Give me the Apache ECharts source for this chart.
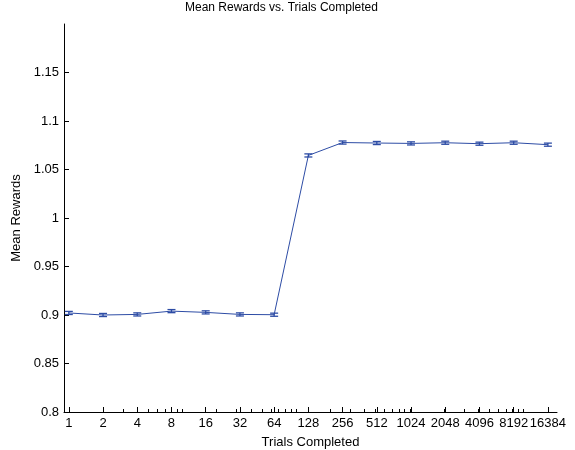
<!DOCTYPE html>
<html><head><meta charset="utf-8">
<script src="https://cdn.jsdelivr.net/npm/echarts@6/dist/echarts.min.js"></script>
<style>html,body{margin:0;padding:0;background:#fff}#c{width:575px;height:450px}</style>
</head><body><div id="c"></div>
<script>
const trials = [1, 2, 4, 8, 16, 32, 64, 128, 256, 512, 1024, 2048, 4096, 8192, 16384];
const meanRewards = [0.9021, 0.9000, 0.9006, 0.9040, 0.9027, 0.9006, 0.9003, 1.0645, 1.0778, 1.0773, 1.0769, 1.0776, 1.0766, 1.0776, 1.0756];
const errors = [0.0016, 0.0016, 0.0016, 0.0016, 0.0016, 0.0016, 0.0016, 0.0016, 0.0016, 0.0016, 0.0016, 0.0016, 0.0016, 0.0016, 0.0016];
const xTickLabels = [1, 2, 4, 8, 16, 32, 64, 128, 256, 512, 1024, 2048, 4096, 8192, 16384];
const xMinorTicks = [1,2,3,4,5,6,7,8,9,10,20,30,40,50,60,70,80,90,100,200,300,400,500,600,700,800,900,1000,2000,3000,4000,5000,6000,7000,8000,9000,10000];
const yTicks = [0.8, 0.85, 0.9, 0.95, 1, 1.05, 1.1, 1.15];

const color = '#2d4ca5';
const font = 'Liberation Sans, Arial, Helvetica, sans-serif';
const chart = echarts.init(document.getElementById('c'));
const errData = trials.map((t, i) => [t, meanRewards[i] - errors[i], meanRewards[i] + errors[i]]);

chart.setOption({
  animation: false,
  title: {
    text: 'Mean Rewards vs. Trials Completed',
    left: 185, top: 2, padding: 0,
    textStyle: {fontFamily: font, fontSize: 12, fontWeight: 'normal', color: '#000'}
  },
  grid: {left: 64, right: 18, top: 24, bottom: 38, outerBoundsMode: 'none', containLabel: false},
  xAxis: [{
    type: 'log', logBase: 2, min: 0.907, max: 19700,
    name: 'Trials Completed', nameLocation: 'middle', nameGap: 24,
    nameTextStyle: {fontFamily: font, fontSize: 13, color: '#000'},
    axisLine: {lineStyle: {color: '#000', width: 1}},
    axisTick: {inside: true, length: 5, customValues: xTickLabels, lineStyle: {color: '#000'}},
    axisLabel: {customValues: xTickLabels, fontFamily: font, fontSize: 13, color: '#000', margin: 5,
      hideOverlap: false, showMinLabel: true, showMaxLabel: true, formatter: v => String(Math.round(v))},
    splitLine: {show: false}, minorTick: {show: false}
  }, {
    type: 'log', logBase: 2, min: 0.907, max: 19700, position: 'bottom',
    axisLine: {show: false},
    axisTick: {inside: true, length: 3, customValues: xMinorTicks, lineStyle: {color: '#000'}},
    axisLabel: {show: false}, splitLine: {show: false}
  }],
  yAxis: {
    type: 'value', min: 0.8, max: 1.2,
    name: 'Mean Rewards', nameLocation: 'middle', nameGap: 30, nameRotate: 90,
    nameTextStyle: {fontFamily: font, fontSize: 13, color: '#000'},
    axisLine: {show: true, lineStyle: {color: '#000', width: 1}},
    axisTick: {show: true, inside: true, length: 5, customValues: yTicks, lineStyle: {color: '#000'}},
    axisLabel: {customValues: yTicks, fontFamily: font, fontSize: 13, color: '#000', margin: 5,
      formatter: v => String(Math.round(v * 100) / 100)},
    splitLine: {show: false}
  },
  series: [{
    type: 'line', data: trials.map((t, i) => [t, meanRewards[i]]),
    symbol: 'none', lineStyle: {color: color, width: 1}, z: 2
  }, {
    type: 'custom', data: errData, z: 3,
    renderItem: (params, api) => {
      const x = api.value(0);
      const p1 = api.coord([x, api.value(2)]);
      const p2 = api.coord([x, api.value(1)]);
      const w = 4;
      const st = {stroke: color, lineWidth: 1.3};
      return {type: 'group', children: [
        {type: 'line', shape: {x1: p1[0], y1: p1[1], x2: p2[0], y2: p2[1]}, style: st},
        {type: 'line', shape: {x1: p1[0] - w, y1: p1[1], x2: p1[0] + w, y2: p1[1]}, style: st},
        {type: 'line', shape: {x1: p2[0] - w, y1: p2[1], x2: p2[0] + w, y2: p2[1]}, style: st}
      ]};
    }
  }]
});
</script></body></html>
